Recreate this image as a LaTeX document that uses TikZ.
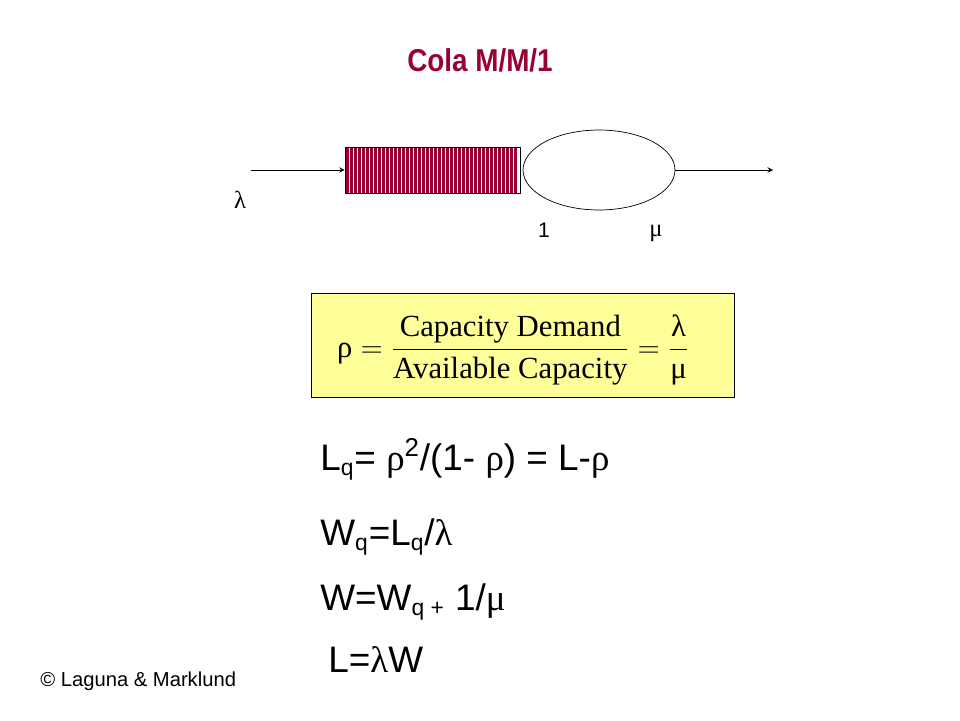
\documentclass[tikz,border=0pt]{standalone}
\usepackage{fontspec}
\setmainfont{Liberation Sans}
\newfontfamily\serifgr{Liberation Serif}
\usepackage{amsmath}
\usetikzlibrary{shapes.geometric}
\definecolor{colared}{RGB}{153,0,51}
\definecolor{boxyellow}{RGB}{255,255,153}
\newcommand{\gr}[1]{{\serifgr #1}}
\tikzset{
  bigtext/.style={anchor=base west, inner sep=0pt, font=\fontsize{21}{24}\selectfont},
  smalltext/.style={inner sep=0pt, font=\fontsize{12}{14}\selectfont},
}
\begin{document}
\begin{tikzpicture}[x=0.02cm, y=-0.02cm]
\useasboundingbox (0,0) rectangle (960,720);

\node[font=\bfseries\fontsize{18}{20}\selectfont, text=colared, xscale=0.88] (title) at (480,60) {Cola M/M/1};

% queue and server
\node[draw, minimum width=3.5cm, minimum height=0.92cm, inner sep=0pt] (queue) at (432.5,170) {};
\foreach \x in {347.5,351.5,...,519}
  \draw[colared, line width=1.2pt] (\x,147) -- (\x,193);
\draw (345,147) rectangle (520,193);
\node[draw, ellipse, minimum width=3.04cm, minimum height=1.6cm, inner sep=0pt] (server) at (599,170) {};
\coordinate (in) at (251,170);
\coordinate (out) at (773,170);
\draw[-stealth] (in) -- (queue.west);
\draw[-stealth] (server.east) -- (out);
\node[smalltext] (lam) at (240,200) {\gr{\fontsize{14}{14}\selectfont λ}};
\node[smalltext] (one) at (544,230) {1};
\node[smalltext] (mu) at (656,233) {\gr{\fontsize{14}{14}\selectfont μ}};

% utilisation
\node[draw, fill=boxyellow, minimum width=8.46cm, minimum height=2.08cm] (rho) at (522.5,345) {};
\node[font=\serifgr\fontsize{17.5}{20}\selectfont] (rhoeq) at (513,350)
  {$\text{ρ} = \dfrac{\text{Capacity Demand}}{\text{Available Capacity}} = \dfrac{\text{λ}}{\text{μ}}$};

% formulas
\node[bigtext] (lq) at (320,470) {L\textsubscript{\fontsize{13}{13}\selectfont q}= \gr{ρ}\textsuperscript{2}/(1- \gr{ρ}) = L-\gr{ρ}};
\node[bigtext] (wq) at (320,545) {W\textsubscript{\fontsize{13}{13}\selectfont q}=L\textsubscript{\fontsize{13}{13}\selectfont q}/\gr{λ}};
\node[bigtext] (w) at (320,610) {W=W\textsubscript{\fontsize{13}{13}\selectfont q +} 1/\gr{μ}};
\node[bigtext] (l) at (328,672) {L=\gr{λ}W};

\node[anchor=base west, inner sep=0pt, font=\fontsize{11.5}{13}\selectfont] (copy) at (40,686) {© Laguna \& Marklund};
\end{tikzpicture}
\end{document}
